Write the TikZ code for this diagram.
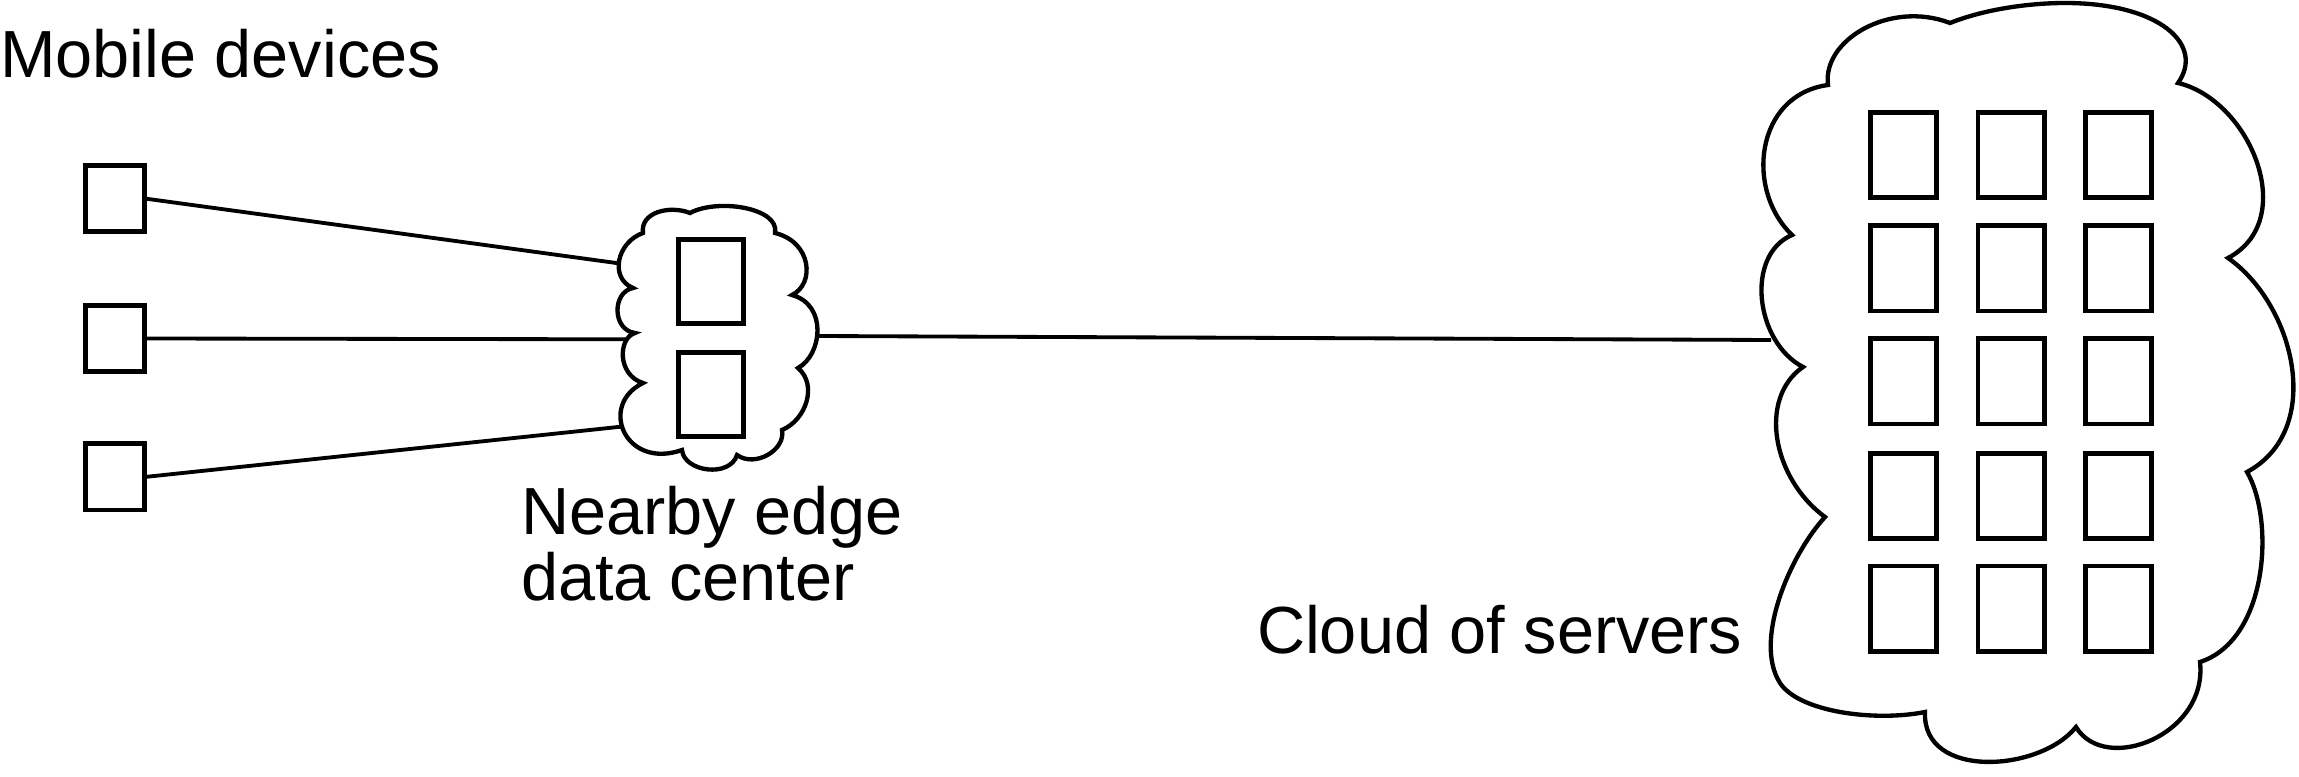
\documentclass[tikz,border=0pt]{standalone}
\usepackage{fontspec}
\setmainfont{Liberation Sans}
\begin{document}
\begin{tikzpicture}[x=0.3pt,y=-0.3pt,
  lbl/.style={font=\fontsize{20}{18}\selectfont, inner sep=0pt, outer sep=0pt},
  devbox/.style={draw, line width=1.4pt, minimum width=17.8pt, minimum height=19.9pt, inner sep=0pt, outer sep=0pt},
  edgesrv/.style={draw, line width=1.4pt, minimum width=19.6pt, minimum height=25.3pt, inner sep=0pt},
  srvbox/.style={draw, line width=1.4pt, minimum width=19.9pt, minimum height=25.6pt, inner sep=0pt},
  cloudline/.style={draw, line width=1.3pt, line join=miter},
  link/.style={draw, line width=1.15pt}]
\path[use as bounding box] (0,0) rectangle (2299,777);

% labels
\node[lbl, anchor=base west] (mobile) at (0,78) {Mobile devices};
\node[lbl, anchor=base west, align=left] (nearby) at (521,600) {Nearby edge\\data center};
\node[lbl, anchor=base west] (cloudlbl) at (1257,653) {Cloud of servers};

% mobile devices
\node[devbox] (d1) at (115,198.5) {};
\node[devbox] (d2) at (115,338.5) {};
\node[devbox] (d3) at (115,477) {};

% edge data center cloud
\path[cloudline] (643,233)
  .. controls (617,242) and (609,278) .. (633,288)
  .. controls (612,292) and (612,330) .. (635,333)
  .. controls (618,338) and (617,375) .. (643,383)
  .. controls (598,405) and (625,470) .. (682,450)
  .. controls (684,472) and (730,478) .. (737,455)
  .. controls (755,468) and (786,450) .. (782,430)
  .. controls (806,420) and (818,385) .. (798,368)
  .. controls (822,355) and (828,305) .. (792,295)
  .. controls (815,284) and (812,242) .. (775,233)
  .. controls (780,208) and (718,198) .. (690,213)
  .. controls (670,205) and (640,212) .. (643,233)
  -- cycle;
\node[edgesrv] (e-a) at (711,281.5) {};
\node[edgesrv] (e-b) at (711,394.5) {};
\coordinate (ein1) at (618.5,263.3);
\coordinate (ein2) at (626.7,339.3);
\coordinate (ein3) at (621,426.7);
\coordinate (eout) at (818,336);

% cloud of servers
\path[cloudline] (1950,23)
  .. controls (1985,9) and (2030,3) .. (2065,3)
  .. controls (2160,3) and (2205,45) .. (2178,83)
  .. controls (2250,100) and (2300,220) .. (2228,258)
  .. controls (2295,305) and (2325,430) .. (2247,472)
  .. controls (2275,520) and (2268,640) .. (2200,662)
  .. controls (2208,735) and (2105,775) .. (2076,727)
  .. controls (2040,772) and (1922,780) .. (1925,712)
  .. controls (1875,722) and (1799,712) .. (1780,683)
  .. controls (1753,641) and (1790,555) .. (1825,517)
  .. controls (1772,478) and (1758,398) .. (1803,367)
  .. controls (1755,342) and (1745,255) .. (1792,235)
  .. controls (1745,190) and (1755,95) .. (1828,85)
  .. controls (1822,40) and (1890,0) .. (1950,23)
  -- cycle;
\foreach \r/\yy in {1/155,2/268.5,3/381.5,4/496,5/608.5}
  \foreach \c/\xx in {1/1903.5,2/2011,3/2118.5}
    \node[srvbox] (srv-\r-\c) at (\xx,\yy) {};
\coordinate (cin) at (1771,340);

% connectors
\draw[link] (d1.east) -- (ein1);
\draw[link] (d2.east) -- (ein2);
\draw[link] (d3.east) -- (ein3);
\draw[link] (eout) -- (cin);
\end{tikzpicture}
\end{document}
